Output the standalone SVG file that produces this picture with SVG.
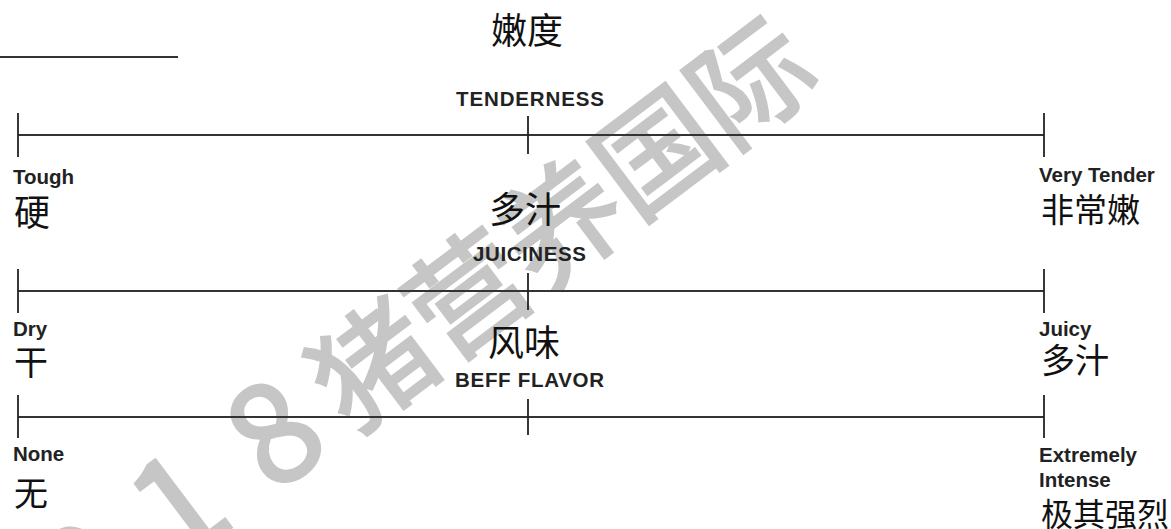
<svg xmlns="http://www.w3.org/2000/svg" width="1171" height="529" viewBox="0 0 1171 529">
<style>
.en{font-family:"Liberation Sans",Arial,sans-serif;font-weight:bold;font-size:20.5px;fill:#222}
.zh{font-family:"Noto Sans CJK SC",sans-serif;fill:#111}
.ax{stroke:#333;stroke-width:2;fill:none}
.tk{stroke:#222;stroke-width:1.8;fill:none}
.wm{font-family:"Noto Sans CJK SC",sans-serif;font-weight:normal;font-size:118px;fill:#c6c6c6;stroke:#c6c6c6;stroke-width:3;stroke-linejoin:miter}
</style>
<rect width="1171" height="529" fill="#fff"/>
<g id="watermark" transform="translate(374,366) rotate(-37)">
<text class="wm" y="43" text-anchor="middle"><tspan font-size="136" x="-472 -356 -240 -120">2018</tspan><tspan x="0 118 236 354 472">猪营养国际</tspan></text>
</g>
<g id="title">
<text class="zh" x="527" y="44" font-size="36" text-anchor="middle">嫩度</text>
<line class="ax" x1="0" y1="57" x2="178" y2="57" stroke-width="2.5" stroke="#444"/>
</g>
<g id="connectors">
<line class="ax" x1="18" y1="135" x2="1044" y2="135"/>
<line class="tk" x1="18" y1="113" x2="18" y2="157"/>
<line class="tk" x1="528" y1="116" x2="528" y2="154"/>
<line class="tk" x1="1044" y1="113" x2="1044" y2="157"/>
<line class="ax" x1="18" y1="291" x2="1044" y2="291"/>
<line class="tk" x1="18" y1="269" x2="18" y2="313"/>
<line class="tk" x1="528" y1="273" x2="528" y2="310"/>
<line class="tk" x1="1044" y1="269" x2="1044" y2="313"/>
<line class="ax" x1="18" y1="417" x2="1044" y2="417"/>
<line class="tk" x1="18" y1="395" x2="18" y2="438"/>
<line class="tk" x1="528" y1="399" x2="528" y2="435"/>
<line class="tk" x1="1044" y1="395" x2="1044" y2="438"/>
</g>
<g id="scale-tenderness">
<text class="en" x="456" y="106" textLength="148" lengthAdjust="spacing">TENDERNESS</text>
<text class="en" x="13" y="184">Tough</text>
<text class="zh" x="14" y="226" font-size="36">硬</text>
<text class="en" x="1039" y="182">Very Tender</text>
<text class="zh" x="1041" y="222" font-size="33">非常嫩</text>
</g>
<g id="scale-juiciness">
<text class="zh" x="489" y="223" font-size="36">多汁</text>
<text class="en" x="473" y="261" textLength="113" lengthAdjust="spacing">JUICINESS</text>
<text class="en" x="13" y="336">Dry</text>
<text class="zh" x="14" y="375" font-size="34">干</text>
<text class="en" x="1039" y="336">Juicy</text>
<text class="zh" x="1041" y="373" font-size="34">多汁</text>
</g>
<g id="scale-flavor">
<text class="zh" x="488" y="356" font-size="36">风味</text>
<text class="en" x="455" y="387" textLength="149" lengthAdjust="spacing">BEFF FLAVOR</text>
<text class="en" x="13" y="461">None</text>
<text class="zh" x="14" y="506" font-size="34">无</text>
<text class="en" x="1039" y="462">Extremely</text>
<text class="en" x="1039" y="487">Intense</text>
<text class="zh" x="1041" y="526" font-size="32">极其强烈</text>
</g>
</svg>
